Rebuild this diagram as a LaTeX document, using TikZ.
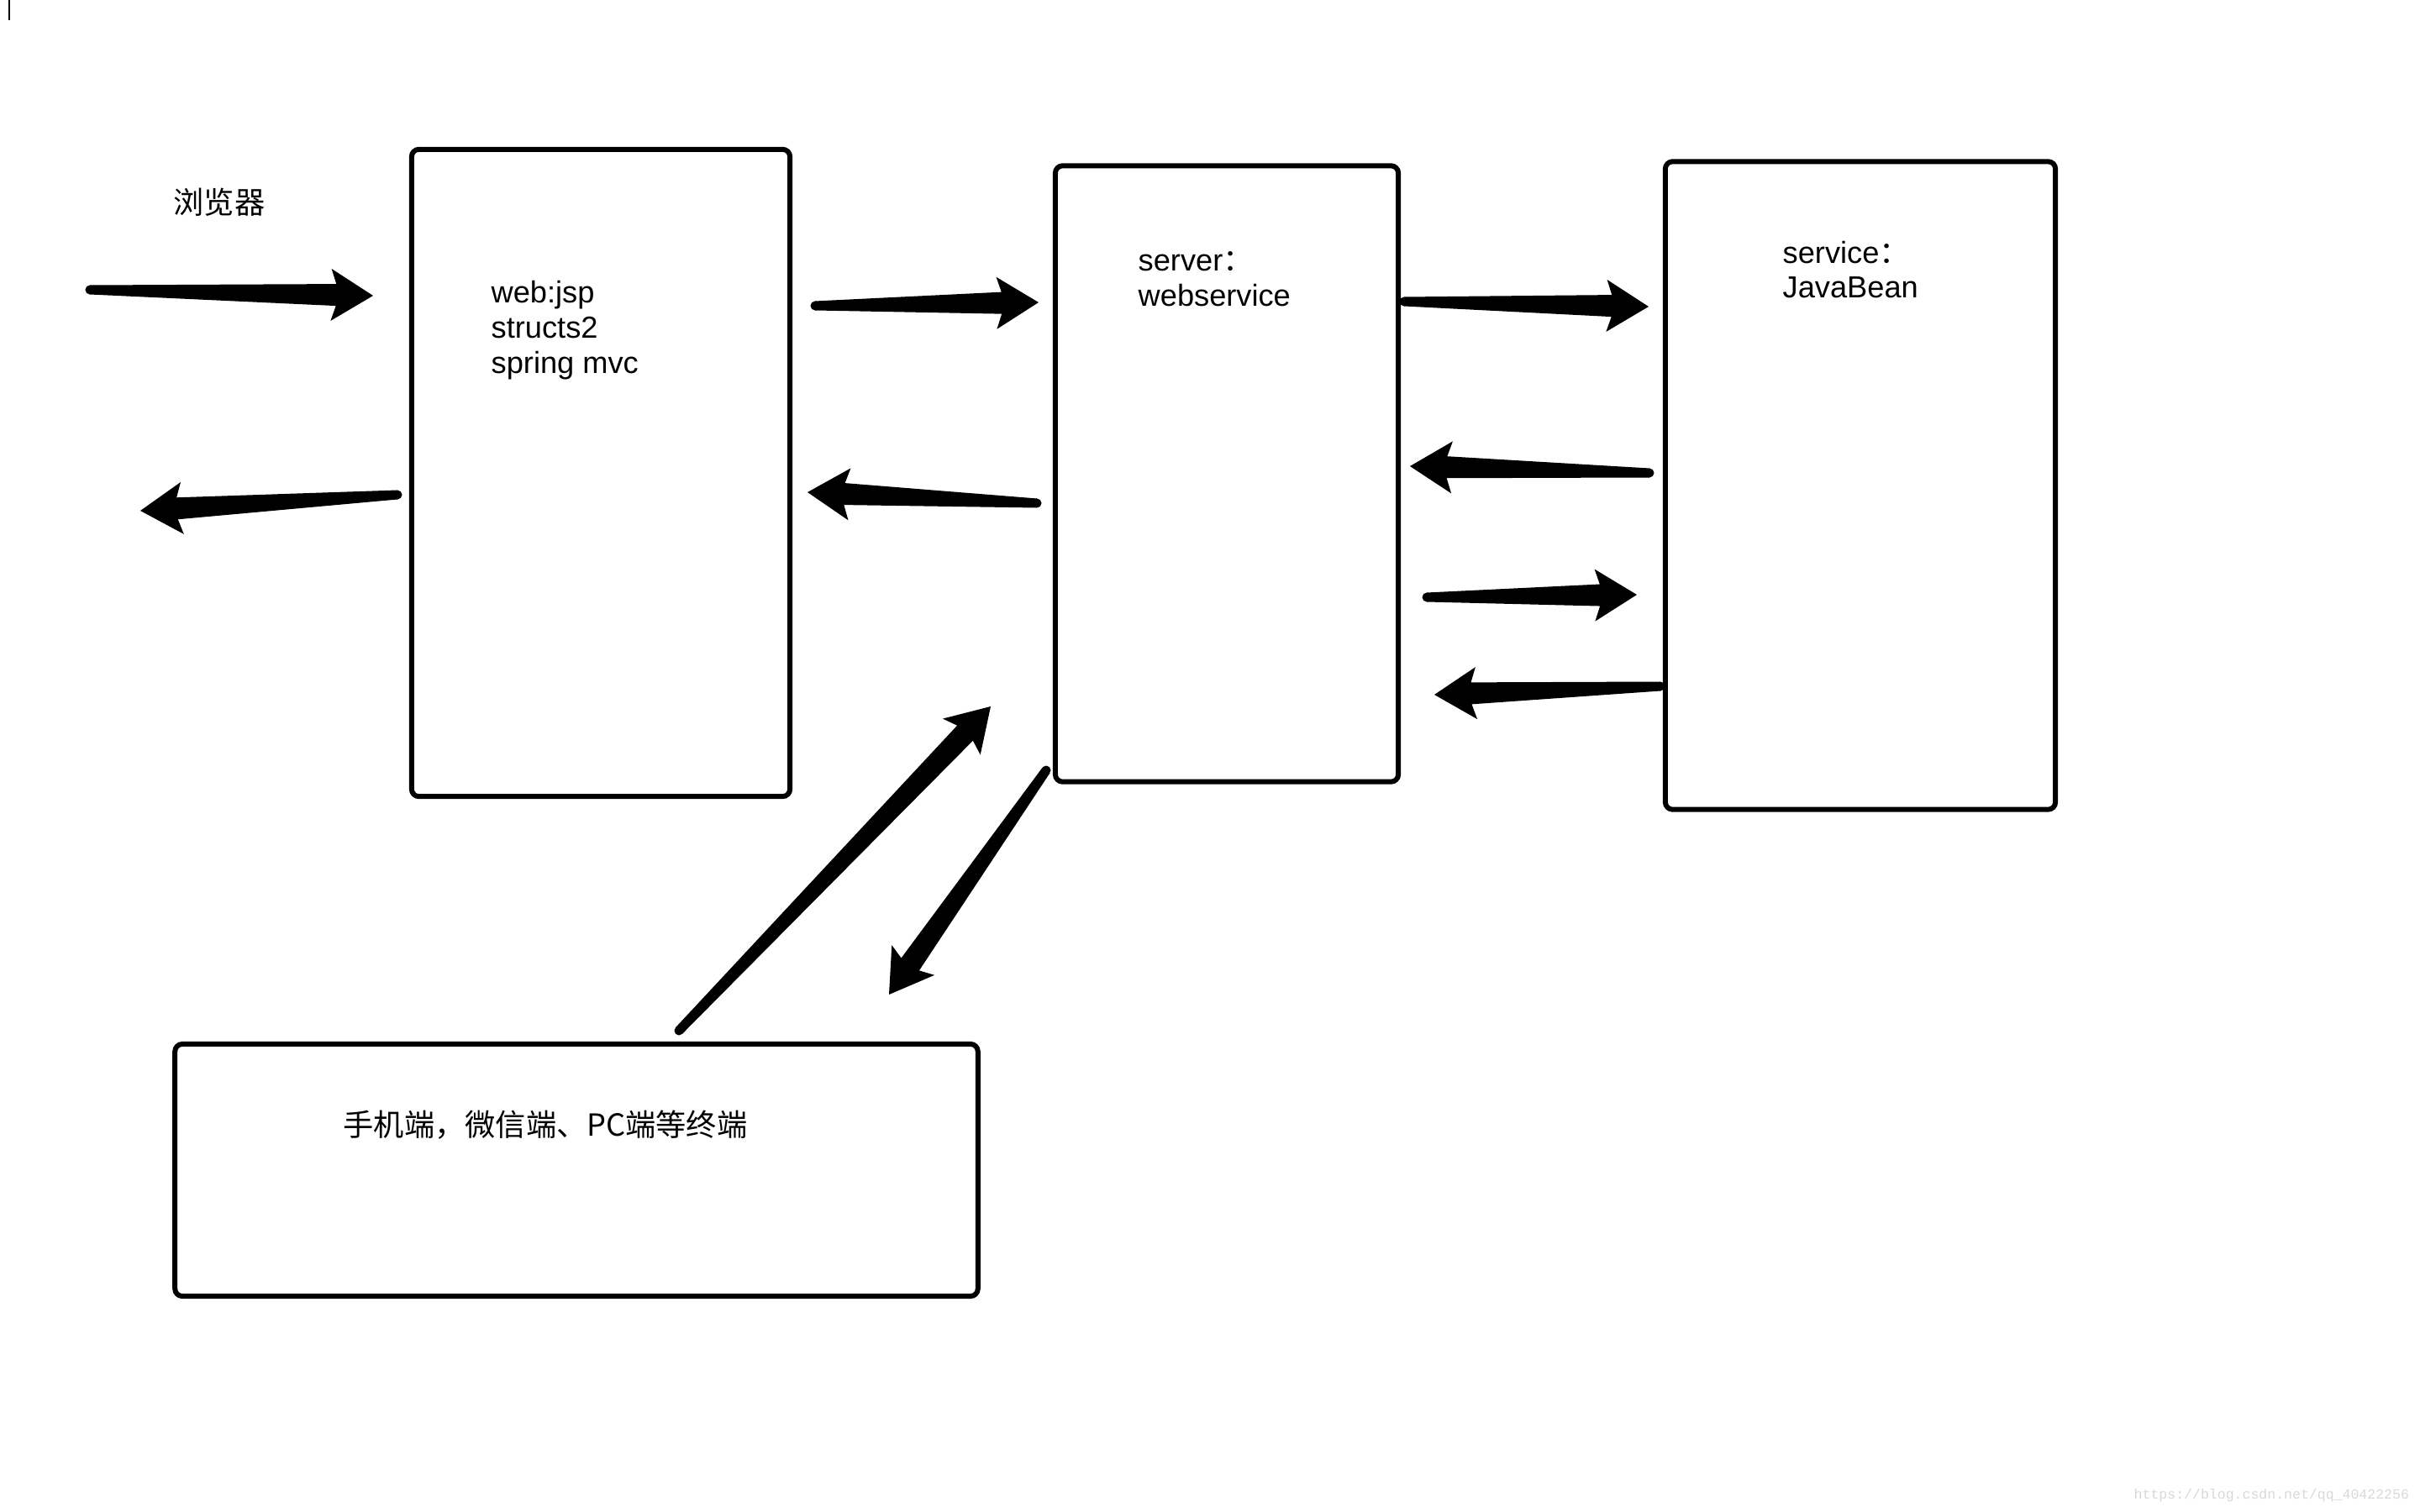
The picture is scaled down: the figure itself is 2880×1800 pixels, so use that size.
\documentclass[tikz,border=0pt]{standalone}
\usepackage{fontspec}
\setmainfont{Liberation Sans}
\newfontfamily\cjk{Noto Sans CJK SC}
\newfontfamily\wmfont{Liberation Mono}
\usetikzlibrary{positioning, calc}

\definecolor{wmgray}{RGB}{218,216,210}

% tapered hand-drawn arrow: #1 = tail, #2 = tip
\newcommand{\fatarrow}[2]{%
  \coordinate (fa-j) at ($(#2)!0.44cm!(#1)$);
  \coordinate (fa-h) at ($(#2)!0.50cm!(#1)$);
  \fill (#1) circle (0.055cm);
  \fill ($(#1)!0.055cm!90:(#2)$)
     -- ($(fa-j)!0.13cm!90:(#2)$)
     -- ($(fa-h)!0.31cm!90:(#2)$)
     -- (#2)
     -- ($(fa-h)!0.31cm!-90:(#2)$)
     -- ($(fa-j)!0.13cm!-90:(#2)$)
     -- ($(#1)!0.055cm!-90:(#2)$) -- cycle;
}

\begin{document}
\begin{tikzpicture}[
    x=0.01cm, y=-0.01cm,    % 1 unit = 1 px of the sketch
    box/.style={draw, line width=1.7pt, rounded corners=2.5pt, inner sep=0},
    label/.style={anchor=west, inner sep=0, align=left,
                  font=\fontsize{10.3}{11.9}\selectfont}
]
    \useasboundingbox (0,0) rectangle (2880,1800);

    % --- 1. boxes ---
    \node [box, minimum width=4.50cm, minimum height=7.70cm] (web)      at (715,563)  {};
    \node [box, minimum width=4.08cm, minimum height=7.33cm] (server)   at (1460,564) {};
    \node [box, minimum width=4.64cm, minimum height=7.71cm] (service)  at (2214,578) {};
    \node [box, minimum width=9.55cm, minimum height=3.00cm] (terminal) at (686,1393) {};

    % --- 2. texts ---
    \node [label] (browser)  at (206,241)  {\cjk 浏览器};
    \node [label] (webtxt)   at (584,393)  {web:jsp\\structs2\\spring mvc};
    \node [label] (servtxt)  at (1354,332) {server{\cjk ：}\\webservice};
    \node [label] (svctxt)   at (2121,321) {service{\cjk ：}\\JavaBean};
    \node [label] (termtxt)  at (408,1339) {\cjk 手机端，微信端、PC端等终端};

    % --- 3. arrow ends ---
    \coordinate (in-s)   at (107,345);  \coordinate (in-t)   at (444,352);
    \coordinate (out-s)  at (473,589);  \coordinate (out-t)  at (167,608);
    \coordinate (ws-s)   at (970,364);  \coordinate (ws-t)   at (1236,360);
    \coordinate (sw-s)   at (1234,599); \coordinate (sw-t)   at (961,586);
    \coordinate (sv1-s)  at (1671,359); \coordinate (sv1-t)  at (1962,365);
    \coordinate (vs1-s)  at (1963,563); \coordinate (vs1-t)  at (1678,555);
    \coordinate (sv2-s)  at (1698,711); \coordinate (sv2-t)  at (1948,708);
    \coordinate (vs2-s)  at (1976,817); \coordinate (vs2-t)  at (1707,827);
    \coordinate (up-s)   at (808,1227); \coordinate (up-t)   at (1179,841);
    \coordinate (down-s) at (1245,917); \coordinate (down-t) at (1058,1184);

    % --- 4. arrows ---
    \fatarrow{in-s}{in-t}
    \fatarrow{out-s}{out-t}
    \fatarrow{ws-s}{ws-t}
    \fatarrow{sw-s}{sw-t}
    \fatarrow{sv1-s}{sv1-t}
    \fatarrow{vs1-s}{vs1-t}
    \fatarrow{sv2-s}{sv2-t}
    \fatarrow{vs2-s}{vs2-t}
    \fatarrow{up-s}{up-t}
    \fatarrow{down-s}{down-t}

    % --- 5. cursor mark and watermark ---
    \coordinate (cur-a) at (11,0); \coordinate (cur-b) at (11,24);
    \draw [line width=0.5pt] (cur-a) -- (cur-b);
    \node [anchor=west, inner sep=0, text=wmgray, font=\wmfont\fontsize{4.7}{5}\selectfont]
        (mark) at (2539,1780) {https://blog.csdn.net/qq\_40422256};

\end{tikzpicture}
\end{document}
